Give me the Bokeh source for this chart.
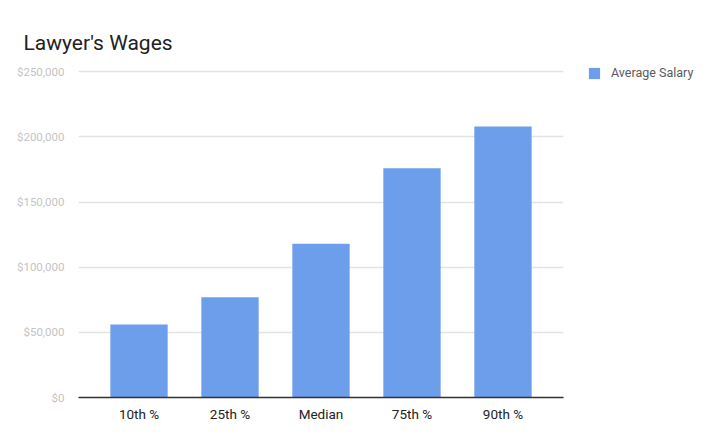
from bokeh.plotting import figure
from bokeh.models import FactorRange, Range1d, NumeralTickFormatter, Legend, LegendItem
from bokeh.embed import file_html
from bokeh.resources import INLINE

categories = ["10th %", "25th %", "Median", "75th %", "90th %"]
salaries = [56000, 77000, 118000, 176000, 208000]
series_name = "Average Salary"
title_text = "Lawyer's Wages"
y_ticks = [0, 50000, 100000, 150000, 200000, 250000]

p = figure(frame_width=485, frame_height=331, output_backend="svg", toolbar_location=None,
           x_range=FactorRange(*categories, range_padding=0.066),
           y_range=Range1d(0, 254000),
           min_border_left=78, min_border_right=10, min_border_top=66, min_border_bottom=40)
p.outline_line_color = None
p.background_fill_color = "white"
p.border_fill_color = "white"

p.title.text = title_text
p.title.text_font = "Roboto"
p.title.text_font_size = "21px"
p.title.text_font_style = "normal"
p.title.text_color = "#212121"
p.title.align = "left"
p.title.offset = -55
p.title.standoff = 24

r = p.vbar(x=categories, top=salaries, width=0.63, color="#6d9eeb", line_color=None)

p.xgrid.grid_line_color = None
p.ygrid.grid_line_color = "#e3e3e3"
p.ygrid.grid_line_width = 1.3

p.yaxis.ticker = y_ticks
p.yaxis.formatter = NumeralTickFormatter(format="$0,0")
p.yaxis.axis_line_color = None
p.yaxis.major_tick_line_color = None
p.yaxis.minor_tick_line_color = None
p.yaxis.major_label_text_font = "Roboto"
p.yaxis.major_label_text_font_size = "11.5px"
p.yaxis.major_label_text_color = "#c4c4c4"
p.yaxis.major_label_standoff = 8

p.xaxis.axis_line_color = "#333333"
p.xaxis.axis_line_width = 1.5
p.xaxis.major_tick_line_color = None
p.xaxis.minor_tick_line_color = None
p.xaxis.major_label_text_font = "Roboto"
p.xaxis.major_label_text_font_size = "13.5px"
p.xaxis.major_label_text_color = "#222222"
p.xaxis.major_label_standoff = 2

legend = Legend(items=[LegendItem(label=series_name, renderers=[r])],
                location=(24, 317), padding=0, margin=0,
                border_line_color=None, background_fill_alpha=0,
                glyph_width=14, glyph_height=14, label_standoff=10,
                label_text_font="Roboto", label_text_font_size="12.5px",
                label_text_color="#5a5a5a", label_height=14)
p.add_layout(legend, "right")

open("out.html", "w").write(file_html(p, INLINE))
